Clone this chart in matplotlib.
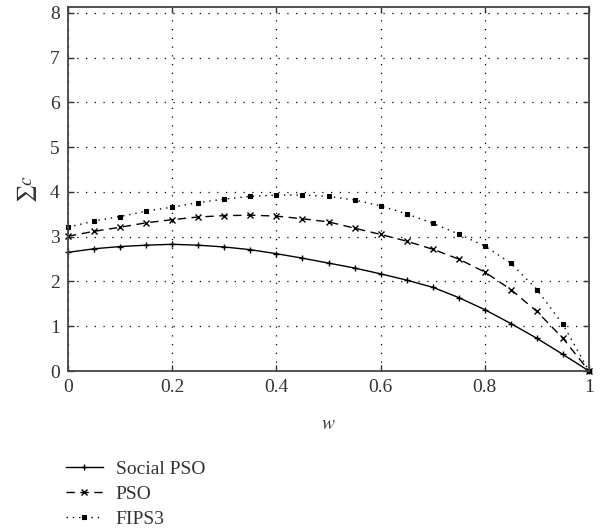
import matplotlib
matplotlib.use('Agg')
import matplotlib.pyplot as plt

# значения w
w = [0.0, 0.05, 0.1, 0.15, 0.2, 0.25, 0.3, 0.35, 0.4, 0.45, 0.5,
     0.55, 0.6, 0.65, 0.7, 0.75, 0.8, 0.85, 0.9, 0.95, 1.0]

social_pso = [2.65, 2.73, 2.78, 2.81, 2.83, 2.81, 2.77, 2.71, 2.62, 2.52, 2.41,
              2.30, 2.17, 2.03, 1.87, 1.64, 1.37, 1.06, 0.73, 0.37, 0.0]
pso = [3.01, 3.12, 3.21, 3.31, 3.38, 3.44, 3.47, 3.48, 3.46, 3.40, 3.33,
       3.19, 3.05, 2.90, 2.72, 2.50, 2.21, 1.82, 1.33, 0.73, 0.0]
fips3 = [3.21, 3.35, 3.45, 3.57, 3.66, 3.76, 3.84, 3.90, 3.93, 3.93, 3.90,
         3.82, 3.69, 3.51, 3.30, 3.06, 2.79, 2.41, 1.82, 1.04, 0.0]

x_ticks = [0, 0.2, 0.4, 0.6, 0.8, 1]
x_tick_labels = ['0', '0.2', '0.4', '0.6', '0.8', '1']
y_ticks = [0, 1, 2, 3, 4, 5, 6, 7, 8]

plt.rcParams['font.family'] = ['Liberation Serif', 'DejaVu Serif']
plt.rcParams['mathtext.fontset'] = 'stix'
fs = 14

fig = plt.figure(figsize=(6.07, 5.29), dpi=100)
ax = fig.add_axes([68 / 607, 1 - 371 / 529, 521 / 607, 364 / 529])

ax.plot(w, social_pso, color='black', linestyle='-', linewidth=1.0,
        marker='+', markersize=5, markeredgewidth=1.0, label='Social PSO',
        clip_on=False)
ax.plot(w, pso, color='black', linestyle=(0, (6, 4)), linewidth=1.0,
        marker='x', markersize=4.5, markeredgewidth=1.0, label='PSO',
        clip_on=False)
ax.plot(w, fips3, color='black', linestyle=(0, (1, 3.5)), linewidth=1.0,
        marker='s', markersize=3.5, markeredgewidth=0.8, label='FIPS3',
        clip_on=False)

ax.set_xlim(0, 1)
ax.set_ylim(0, 8.13)
ax.set_xticks(x_ticks)
ax.set_xticklabels(x_tick_labels)
ax.set_yticks(y_ticks)

ax.grid(True, color='black', linestyle=(0, (1, 6)), linewidth=0.9)

ax.tick_params(direction='in', top=True, right=True, length=4, width=1.0,
               labelsize=fs, pad=6, colors='#333333', labelcolor='#333333')

# рамка
for spine in ax.spines.values():
    spine.set_color('#444444')
    spine.set_linewidth(1.3)

ax.set_xlabel('$w$', fontsize=fs, labelpad=14, color='#333333')
ax.set_ylabel(r'$\sum c$', fontsize=fs, labelpad=8, color='#333333')

leg = fig.legend(loc='upper left', bbox_to_anchor=(66 / 607, 1 - 460 / 529),
                 frameon=False, fontsize=fs, numpoints=1, handlelength=1.9,
                 handletextpad=0.65, labelspacing=0.38, borderpad=0,
                 borderaxespad=0)
for t in leg.get_texts():
    t.set_color('#333333')
    t.set_family(['Liberation Serif'])

fig.savefig('out.png', dpi=100)
